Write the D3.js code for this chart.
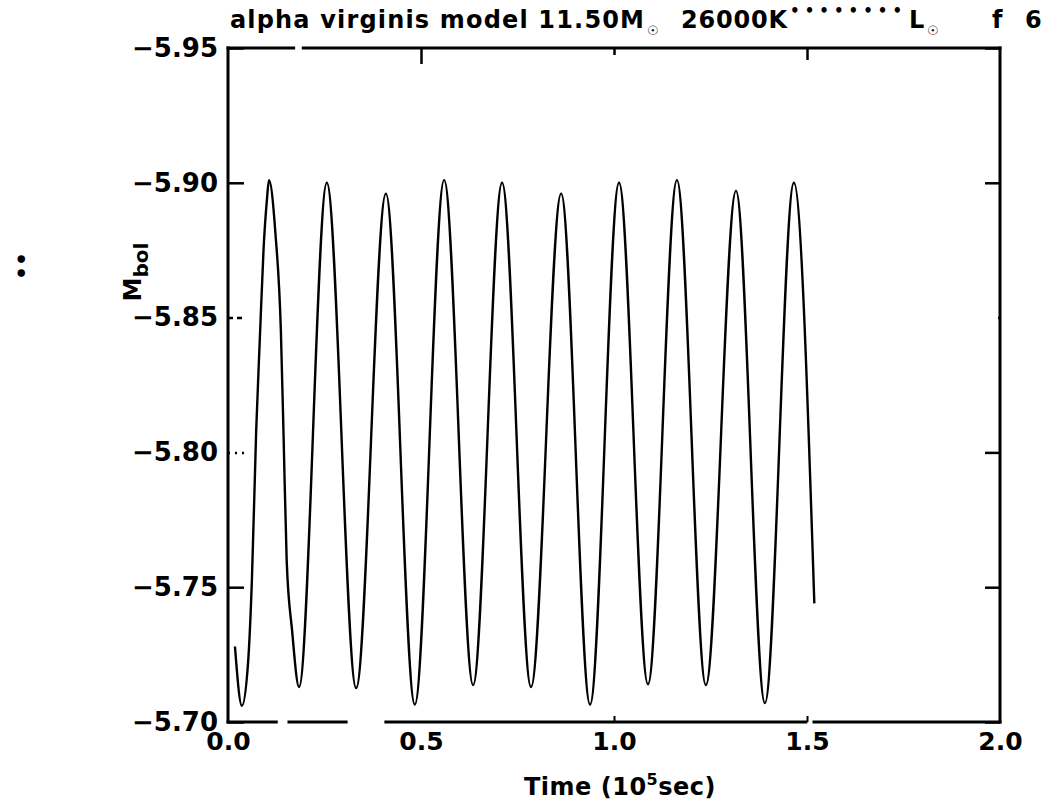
<!DOCTYPE html>
<html>
<head>
<meta charset="utf-8">
<script src="https://cdn.jsdelivr.net/npm/d3@7"></script>
<style>
  html, body { margin: 0; padding: 0; background: #fff; }
  svg { display: block; }
  text { font-family: "DejaVu Sans", sans-serif; font-weight: bold; fill: #000; }
</style>
</head>
<body>
<svg id="chart" width="1047" height="803"></svg>
<script>
// ---- data ----
// time in units of 10^5 s
const timeVals = [
  0.018, 0.036, 0.052, 0.062, 0.073, 0.083, 0.092, 0.101, 0.106,
  0.123, 0.137, 0.144, 0.152, 0.166, 0.184,
  0.256, 0.332, 0.409, 0.484, 0.560, 0.635, 0.710, 0.785,
  0.863, 0.938, 1.013, 1.088, 1.163, 1.238, 1.316, 1.391,
  1.466, 1.519
];
// bolometric magnitude
const mbolVals = [
  -5.728, -5.706, -5.722, -5.753, -5.808, -5.844, -5.875, -5.894, -5.901,
  -5.881, -5.845, -5.806, -5.760, -5.734, -5.713,
  -5.900, -5.7126, -5.896, -5.7065, -5.901, -5.7137, -5.900, -5.7130,
  -5.896, -5.7065, -5.900, -5.7140, -5.901, -5.7137, -5.897, -5.7070,
  -5.900, -5.744
];
const xTicks = [0.0, 0.5, 1.0, 1.5, 2.0];
const xTickLabels = ["0.0", "0.5", "1.0", "1.5", "2.0"];
const yTicks = [-5.95, -5.90, -5.85, -5.80, -5.75, -5.70];
const yTickLabels = ["\u22125.95", "\u22125.90", "\u22125.85", "\u22125.80", "\u22125.75", "\u22125.70"];
const xDomain = [0, 2];
const yDomain = [-5.70, -5.95];

// ---- layout ----
const W = 1047, H = 803;
const L = 228, R = 1000, T = 48, B = 722;

const svg = d3.select("#chart");
svg.append("rect").attr("width", W).attr("height", H).attr("fill", "#fff");

const x = d3.scaleLinear().domain(xDomain).range([L, R]);
const y = d3.scaleLinear().domain(yDomain).range([B, T]);

// left axis labels + inward ticks
const leftStyles = [null, null, "5,4", "2,5", null, null];
const gL = svg.append("g").attr("transform", `translate(${L},0)`)
  .call(d3.axisLeft(y).tickValues(yTicks)
    .tickFormat((d, i) => yTickLabels[i])
    .tickSizeInner(-16).tickSizeOuter(0).tickPadding(10));
gL.select(".domain").remove();
gL.selectAll(".tick line").attr("stroke", "#000").attr("stroke-width", 2.5)
  .attr("stroke-dasharray", (d, i) => leftStyles[i]);
gL.selectAll(".tick text").attr("font-size", 26).attr("font-family", "DejaVu Sans")
  .attr("font-weight", "bold").attr("fill", "#000");

// right axis inward ticks
const rightStyles = [null, null, "2,20", null, null, null];
const gR = svg.append("g").attr("transform", `translate(${R},0)`)
  .call(d3.axisRight(y).tickValues(yTicks).tickFormat("")
    .tickSizeInner(-15).tickSizeOuter(0));
gR.select(".domain").remove();
gR.selectAll(".tick line").attr("stroke", "#000").attr("stroke-width", 2.5)
  .attr("stroke-dasharray", (d, i) => rightStyles[i]);

// bottom axis labels + small inward ticks
const gB = svg.append("g").attr("transform", `translate(0,${B})`)
  .call(d3.axisBottom(x).tickValues(xTicks)
    .tickFormat((d, i) => xTickLabels[i])
    .tickSizeInner(-6).tickSizeOuter(0).tickPadding(13));
gB.select(".domain").remove();
gB.selectAll(".tick line").attr("stroke", "#000").attr("stroke-width", 2)
  .attr("opacity", (d, i) => (i === 2 || i === 3) ? 1 : 0);
gB.selectAll(".tick text").attr("font-size", 25).attr("font-family", "DejaVu Sans")
  .attr("font-weight", "bold").attr("fill", "#000").attr("dy", "0.6em");

// top axis inward ticks
const topLens = [0, 16, 7, 12, 0];
const gT = svg.append("g").attr("transform", `translate(0,${T})`)
  .call(d3.axisTop(x).tickValues(xTicks).tickFormat("").tickSizeOuter(0));
gT.select(".domain").remove();
gT.selectAll(".tick line").attr("stroke", "#000").attr("stroke-width", 2.5)
  .attr("y2", (d, i) => topLens[i]);

// frame
const frame = svg.append("g").attr("stroke", "#000").attr("stroke-width", 3)
  .attr("fill", "none").attr("stroke-linecap", "square");
frame.append("line").attr("x1", L).attr("y1", T).attr("x2", L).attr("y2", B);
frame.append("line").attr("x1", R).attr("y1", T).attr("x2", R).attr("y2", B);
const topSegs = [[0, 0.17], [0.195, 2.0]];
topSegs.forEach(s => frame.append("line")
  .attr("x1", x(s[0])).attr("y1", T).attr("x2", x(s[1])).attr("y2", T));
const bottomSegs = [[0, 0.125], [0.158, 0.306], [0.409, 1.497], [1.518, 2.0]];
bottomSegs.forEach(s => frame.append("line")
  .attr("x1", x(s[0])).attr("y1", B).attr("x2", x(s[1])).attr("y2", B));

// light curve
const pts = timeVals.map((t, i) => ({ t, m: mbolVals[i] }));
const line = d3.line().x(d => x(d.t)).y(d => y(d.m)).curve(d3.curveMonotoneX);
svg.append("path").datum(pts)
  .attr("d", line)
  .attr("fill", "none").attr("stroke", "#000").attr("stroke-width", 2.4)
  .attr("stroke-linejoin", "round");

// title (pieces laid out as in the reference)
const tg = svg.append("g").attr("font-size", 24);
const tBase = 28;
tg.append("text").attr("x", 230).attr("y", tBase)
  .attr("textLength", 414).attr("lengthAdjust", "spacing")
  .text("alpha virginis model 11.50M");
tg.append("text").attr("x", 647).attr("y", tBase + 7).attr("font-size", 13).text("\u2609");
tg.append("text").attr("x", 681).attr("y", tBase)
  .attr("textLength", 106).attr("lengthAdjust", "spacing").text("26000K");
tg.append("text").attr("x", 790).attr("y", tBase - 12).attr("font-size", 15)
  .attr("textLength", 112).attr("lengthAdjust", "spacing")
  .text("\u2022\u2022\u2022\u2022\u2022\u2022\u2022\u2022");
tg.append("text").attr("x", 909).attr("y", tBase).text("L");
tg.append("text").attr("x", 927).attr("y", tBase + 7).attr("font-size", 13).text("\u2609");
tg.append("text").attr("x", 992).attr("y", tBase).text("f");
tg.append("text").attr("x", 1025).attr("y", tBase).text("6");

// y axis label
const yl = svg.append("text")
  .attr("transform", "translate(141,272) rotate(-90)")
  .attr("text-anchor", "middle").attr("font-size", 24);
yl.append("tspan").text("M");
yl.append("tspan").attr("font-size", 20).attr("dy", 7).text("bol");

// x axis label
const xl = svg.append("text").attr("x", 620).attr("y", 795)
  .attr("text-anchor", "middle").attr("font-size", 24).attr("letter-spacing", 0.5);
xl.append("tspan").text("Time (10");
xl.append("tspan").attr("font-size", 16).attr("dy", -10).text("5");
xl.append("tspan").attr("dy", 10).text("sec)");

// stray mark at far left
svg.append("text").attr("transform", "translate(13,266) rotate(90)")
  .attr("font-size", 22).attr("text-anchor", "middle").text("\u2022\u2022");
</script>
</body>
</html>
